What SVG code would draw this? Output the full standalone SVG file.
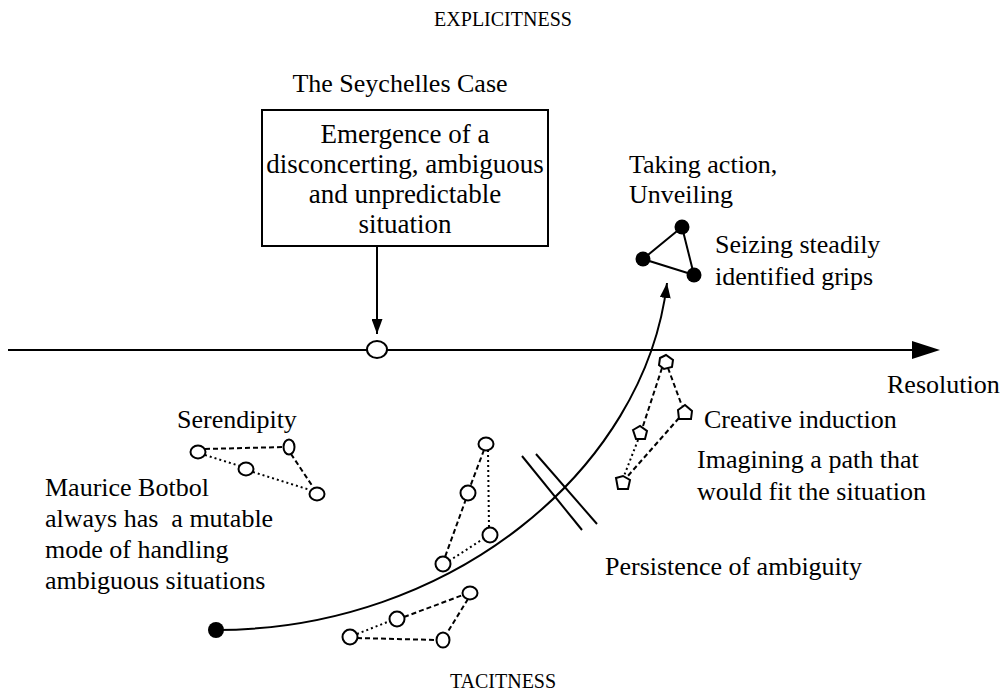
<svg xmlns="http://www.w3.org/2000/svg" width="1006" height="698" viewBox="0 0 1006 698">
  <style>
    text { font-family: "Liberation Serif", "Times New Roman", serif; font-size: 26px; fill: #000; }
    .cap { font-size: 20px; text-anchor: middle; }
    .mid { text-anchor: middle; }
    .boxtext { font-size: 27px; text-anchor: middle; }
    .pre { white-space: pre; }
    .solid { fill: none; stroke: #000; stroke-width: 2; }
    .dash { fill: none; stroke: #000; stroke-width: 2; stroke-dasharray: 5 3; }
    .dot { fill: none; stroke: #000; stroke-width: 2; stroke-dasharray: 2 3; }
    .ring { fill: #fff; stroke: #000; stroke-width: 2; }
    .fdot { fill: #000; }
  </style>
  <defs>
    <marker id="head" markerUnits="userSpaceOnUse" markerWidth="15" markerHeight="11" refX="15" refY="5.5" orient="auto">
      <path d="M0,0 L15,5.5 L0,11 Z" fill="#000"/>
    </marker>
  </defs>

  <rect width="1006" height="698" fill="#fff"/>

  <!-- axis labels -->
  <g id="axis-labels">
    <text class="cap" x="503" y="26">EXPLICITNESS</text>
    <text class="cap" x="503" y="688">TACITNESS</text>
    <text x="887" y="393">Resolution</text>
  </g>

  <!-- connectors -->
  <g id="connectors">
    <!-- resolution axis -->
    <line class="solid" x1="8" y1="350" x2="914" y2="350"/>
    <polygon points="912,341 940,350 912,359" fill="#000"/>
    <!-- case box to emergence point -->
    <line class="solid" x1="377" y1="246" x2="377" y2="334" marker-end="url(#head)"/>
    <!-- trajectory from tacit start to action -->
    <path class="solid" d="M216,630 C450,630 645,470 667,283" marker-end="url(#head)"/>
    <!-- persistence break -->
    <line class="solid" x1="522" y1="456" x2="582" y2="530"/>
    <line class="solid" x1="536" y1="454" x2="597" y2="524"/>
  </g>

  <g id="case">
    <text class="mid" x="400" y="92">The Seychelles Case</text>
    <rect x="262" y="110" width="286" height="136" fill="#fff" stroke="#000" stroke-width="2"/>
    <text class="boxtext" x="405" y="143">Emergence of a</text>
    <text class="boxtext" x="405" y="173">disconcerting, ambiguous</text>
    <text class="boxtext" x="405" y="203">and unpredictable</text>
    <text class="boxtext" x="405" y="233">situation</text>
  </g>

  <g id="emergence-point">
    <ellipse class="ring" cx="377" cy="349.5" rx="10" ry="8.5"/>
  </g>

  <g id="start-point">
    <circle class="fdot" cx="216" cy="630" r="8"/>
  </g>

  <g id="action">
    <text x="629" y="173">Taking action,</text>
    <text x="629" y="203">Unveiling</text>
    <polygon points="682,227 643,259 694,275" fill="none" stroke="#000" stroke-width="2"/>
    <circle class="fdot" cx="682" cy="227" r="7.5"/>
    <circle class="fdot" cx="643" cy="259" r="7.5"/>
    <circle class="fdot" cx="694" cy="275" r="7.5"/>
    <text x="715" y="253">Seizing steadily</text>
    <text x="715" y="285">identified grips</text>
  </g>

  <g id="serendipity">
    <text x="177" y="428">Serendipity</text>
    <line class="dash" x1="205" y1="449" x2="284" y2="447"/>
    <line class="dot" x1="205" y1="455" x2="240" y2="466"/>
    <line class="dot" x1="253" y1="472" x2="310" y2="490"/>
    <line class="dash" x1="291" y1="454" x2="313" y2="487"/>
    <ellipse class="ring" cx="198" cy="452" rx="7.5" ry="6.5"/>
    <ellipse class="ring" cx="289" cy="447" rx="5.5" ry="7.5"/>
    <ellipse class="ring" cx="246" cy="469" rx="7.5" ry="6.5"/>
    <ellipse class="ring" cx="317" cy="494" rx="7.5" ry="6.5"/>
  </g>

  <g id="botbol">
    <text x="45" y="496">Maurice Botbol</text>
    <text class="pre" x="45" y="527">always has  a mutable</text>
    <text x="45" y="558">mode of handling</text>
    <text x="45" y="589">ambiguous situations</text>
  </g>

  <g id="middle-cluster">
    <line class="dash" x1="484" y1="450" x2="470" y2="487"/>
    <line class="dot" x1="488" y1="450" x2="489" y2="528"/>
    <line class="dash" x1="466" y1="499" x2="445" y2="557"/>
    <line class="dot" x1="449" y1="561" x2="483" y2="539"/>
    <ellipse class="ring" cx="486" cy="444" rx="7.5" ry="6.5"/>
    <ellipse class="ring" cx="468" cy="493" rx="7.5" ry="7.5"/>
    <ellipse class="ring" cx="490" cy="535" rx="7.5" ry="7.5"/>
    <ellipse class="ring" cx="443" cy="564" rx="7.5" ry="7.5"/>
  </g>

  <g id="lower-cluster">
    <line class="dot" x1="357" y1="634" x2="390" y2="621"/>
    <line class="dash" x1="404" y1="617" x2="463" y2="595"/>
    <line class="dash" x1="468" y1="599" x2="447" y2="633"/>
    <line class="dash" x1="357" y1="638" x2="436" y2="640"/>
    <ellipse class="ring" cx="350" cy="637" rx="7.5" ry="7.5"/>
    <ellipse class="ring" cx="397" cy="619" rx="7.5" ry="7.5"/>
    <ellipse class="ring" cx="470" cy="593" rx="7.5" ry="6.5"/>
    <ellipse class="ring" cx="443" cy="640" rx="6.5" ry="7.5"/>
  </g>

  <g id="creative-induction">
    <line class="dash" x1="668" y1="368" x2="682" y2="406"/>
    <line class="dash" x1="662" y1="368" x2="643" y2="426"/>
    <line class="dash" x1="679" y1="418" x2="627" y2="477"/>
    <line class="dot" x1="638" y1="440" x2="624" y2="476"/>
    <path class="ring" d="M660,358 L666,355 L673,360 L672,367 L664,369 L659,365 Z"/>
    <path class="ring" d="M678,410 L685,405 L692,411 L691,419 L679,419 Z"/>
    <path class="ring" d="M633,430 L640,426 L647,431 L645,439 L636,439 Z"/>
    <path class="ring" d="M616,478 L623,476 L630,480 L628,489 L618,489 Z"/>
    <text x="704" y="428">Creative induction</text>
    <text x="697" y="468">Imagining a path that</text>
    <text x="697" y="500">would fit the situation</text>
  </g>

  <g id="persistence">
    <text x="605" y="575">Persistence of ambiguity</text>
  </g>
</svg>
